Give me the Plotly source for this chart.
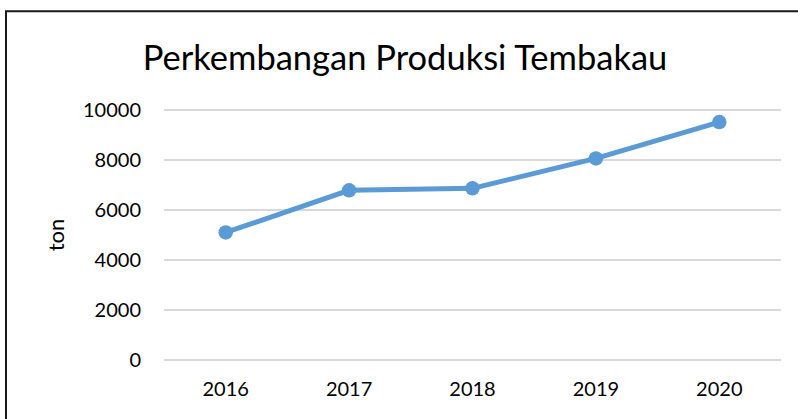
import plotly.graph_objects as go

# Data
tahun = ["2016", "2017", "2018", "2019", "2020"]
produksi = [5100, 6780, 6860, 8050, 9500]
y_ticks = [0, 2000, 4000, 6000, 8000, 10000]
y_labels = ["0", "2000", "4000", "6000", "8000", "10000"]

W, H = 798, 419
LEFT, RIGHT, TOP, BOTTOM = 164, 781, 107, 363.5   # plot area in px
BLUE = "#5B9BD5"
FONT = "Lato, Open Sans, sans-serif"

fig = go.Figure()
fig.add_trace(go.Scatter(
    x=tahun, y=produksi, mode="lines+markers",
    line=dict(color=BLUE, width=5),
    marker=dict(color=BLUE, size=14.5),
    showlegend=False,
))

# chart frame (only top and left edges visible in the picture)
pw, ph = RIGHT - LEFT, BOTTOM - TOP
fx = (6 - LEFT) / pw
fy = (BOTTOM - 11) / ph
fig.add_shape(type="path", xref="paper", yref="paper",
              path=f"M {fx} -1 L {fx} {fy} L 1.2 {fy}",
              line=dict(color="#1a1a1a", width=2))

fig.update_layout(
    width=W, height=H,
    margin=dict(l=LEFT, r=W - RIGHT, t=TOP, b=H - BOTTOM),
    paper_bgcolor="white", plot_bgcolor="white",
    font=dict(family=FONT, color="#000000", size=20),
    title=dict(text="Perkembangan Produksi Tembakau",
               font=dict(size=34.5, family=FONT, color="#000000"),
               x=405 / W, xref="container", xanchor="center",
               y=1 - 58 / H, yref="container", yanchor="middle"),
    xaxis=dict(type="category", range=[-0.5, 4.5], showgrid=False,
               showline=False, zeroline=False, ticks="",
               ticklabelstandoff=12, tickfont=dict(size=20)),
    # range padded a little so the 0 and 10000 grid lines are drawn
    yaxis=dict(range=[-100, 10100], tickvals=y_ticks, ticktext=y_labels,
               showgrid=True, gridcolor="#d9d9d9", gridwidth=1.5,
               zeroline=False, showline=False, ticks="",
               ticklabelstandoff=22, tickfont=dict(size=20),
               title=dict(text="ton", font=dict(size=22), standoff=12)),
)

fig.write_html("out.html", config={"displayModeBar": False},
               post_script="document.body.style.margin='0';")
